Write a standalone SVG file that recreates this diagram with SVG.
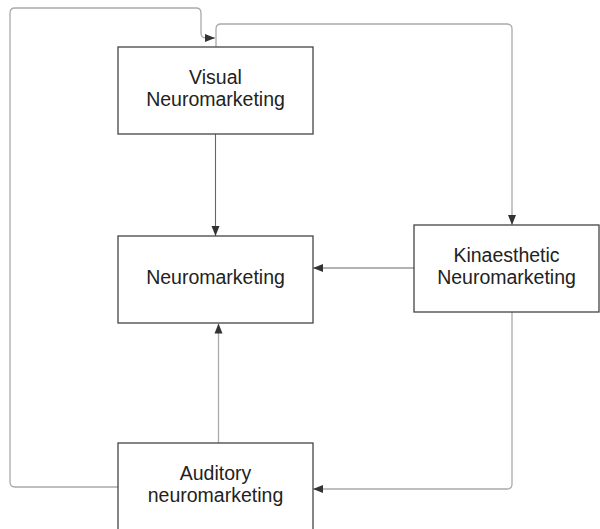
<svg xmlns="http://www.w3.org/2000/svg" width="600" height="529" viewBox="0 0 600 529">
<style>
.box{fill:#fff;stroke:#444;stroke-width:1.3}
.t{font-family:"Liberation Sans",Arial,sans-serif;font-size:19.5px;fill:#222;text-anchor:middle}
.dk{fill:none;stroke:#666;stroke-width:1.1}
.lt{fill:none;stroke:#aaa;stroke-width:1.3}
</style>
<defs>
<marker id="ah" viewBox="0 0 10 10" refX="10" refY="5" markerWidth="10" markerHeight="10" markerUnits="userSpaceOnUse" orient="auto">
<path d="M0,1 L10,5 L0,9 Z" fill="#333"/>
</marker>
</defs>
<rect width="600" height="529" fill="#fff"/>
<g id="connectors">
<path class="dk" d="M215.5,134 V236" marker-end="url(#ah)"/>
<path class="dk" d="M414,268 H313" marker-end="url(#ah)"/>
<path class="lt" d="M218.5,443 V323.5" marker-end="url(#ah)"/>
<path class="lt" d="M118,487 H15 Q10,487 10,482 V13 Q10,8 15,8 H196 Q201,8 201,13 V33 Q201,38 206,38 H215" marker-end="url(#ah)"/>
<path class="lt" d="M216,47 V29 Q216,24 221,24 H507 Q512,24 512,29 V225" marker-end="url(#ah)"/>
<path class="lt" d="M512,312 V484 Q512,489 507,489 H313" marker-end="url(#ah)"/>
</g>
<g id="visual">
<rect class="box" x="118" y="47" width="195" height="87"/>
<text class="t" x="215.5" y="84">Visual</text>
<text class="t" x="215.5" y="106">Neuromarketing</text>
</g>
<g id="neuromarketing">
<rect class="box" x="118" y="236" width="195" height="87"/>
<text class="t" x="215.5" y="284">Neuromarketing</text>
</g>
<g id="kinaesthetic">
<rect class="box" x="414" y="225" width="185" height="87"/>
<text class="t" x="506.5" y="261.5">Kinaesthetic</text>
<text class="t" x="506.5" y="283.5">Neuromarketing</text>
</g>
<g id="auditory">
<rect class="box" x="118" y="443" width="195" height="95"/>
<text class="t" x="215.5" y="480">Auditory</text>
<text class="t" x="215.5" y="502">neuromarketing</text>
</g>
</svg>
